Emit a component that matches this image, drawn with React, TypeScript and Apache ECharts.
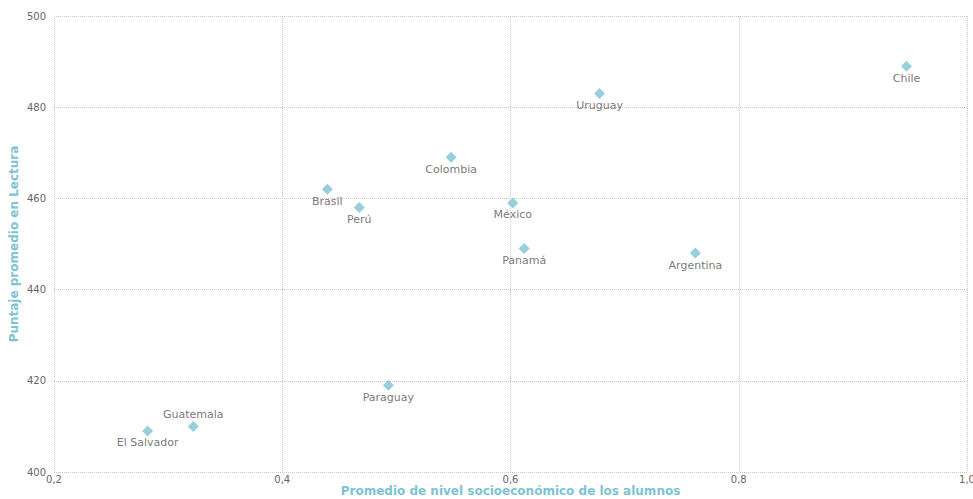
import React, { useEffect, useRef } from "react";
import * as echarts from "echarts";

const countries = ["El Salvador", "Guatemala", "Brasil", "Perú", "Colombia", "México", "Panamá", "Paraguay", "Uruguay", "Argentina", "Chile"];
const nse = [0.282, 0.322, 0.4395, 0.4675, 0.548, 0.602, 0.612, 0.493, 0.678, 0.762, 0.947];
const lectura = [409, 410, 462, 458, 469, 459, 449, 419, 483, 448, 489];
const labelTop = ["Guatemala"];

const xTitle = "Promedio de nivel socioeconómico de los alumnos";
const yTitle = "Puntaje promedio en Lectura";

export default function App() {
  const ref = useRef<HTMLDivElement>(null);
  useEffect(() => {
    document.body.style.margin = "0";
    const chart = echarts.init(ref.current!, null, { renderer: "svg" });
    const fmt = (v: number) => v.toFixed(1).replace(".", ",");
    chart.setOption({
      animation: false,
      grid: { left: 54, right: 6, top: 16, bottom: 27, containLabel: false, outerBoundsMode: "none" },
      xAxis: {
        type: "value",
        min: 0.2,
        max: 1.0,
        interval: 0.2,
        name: xTitle,
        nameLocation: "middle",
        nameGap: 13,
        nameMoveOverlap: false,
        nameTextStyle: { color: "#7ec3d3", fontWeight: "bold", fontSize: 12, fontFamily: "DejaVu Sans" },
        axisLine: { show: false },
        axisTick: { show: false },
        axisLabel: { color: "#666", fontSize: 10, fontFamily: "DejaVu Sans", margin: 2, formatter: fmt },
        splitLine: { show: true, lineStyle: { type: "dotted", color: "#c8c8c8", width: 1 } },
      },
      yAxis: {
        type: "value",
        min: 400,
        max: 500,
        interval: 20,
        name: yTitle,
        nameLocation: "middle",
        nameGap: 34,
        nameMoveOverlap: false,
        nameTextStyle: { color: "#7ec3d3", fontWeight: "bold", fontSize: 12, fontFamily: "DejaVu Sans" },
        axisLine: { show: false },
        axisTick: { show: false },
        axisLabel: { color: "#666", fontSize: 10, fontFamily: "DejaVu Sans", margin: 8 },
        splitLine: { show: true, lineStyle: { type: "dotted", color: "#c8c8c8", width: 1 } },
      },
      series: [
        {
          type: "scatter",
          symbol: "diamond",
          symbolSize: 11,
          itemStyle: { color: "#7ec3d3" },
          data: countries.map((c, i) => ({
            name: c,
            value: [nse[i], lectura[i]],
            label: { position: labelTop.includes(c) ? "top" : "bottom" },
          })),
          label: {
            show: true,
            formatter: "{b}",
            color: "#555",
            fontSize: 11,
            fontFamily: "DejaVu Sans",
            distance: 1,
          },
        },
      ],
    });
    return () => chart.dispose();
  }, []);
  return <div ref={ref} style={{ width: 973, height: 499 }} />;
}
